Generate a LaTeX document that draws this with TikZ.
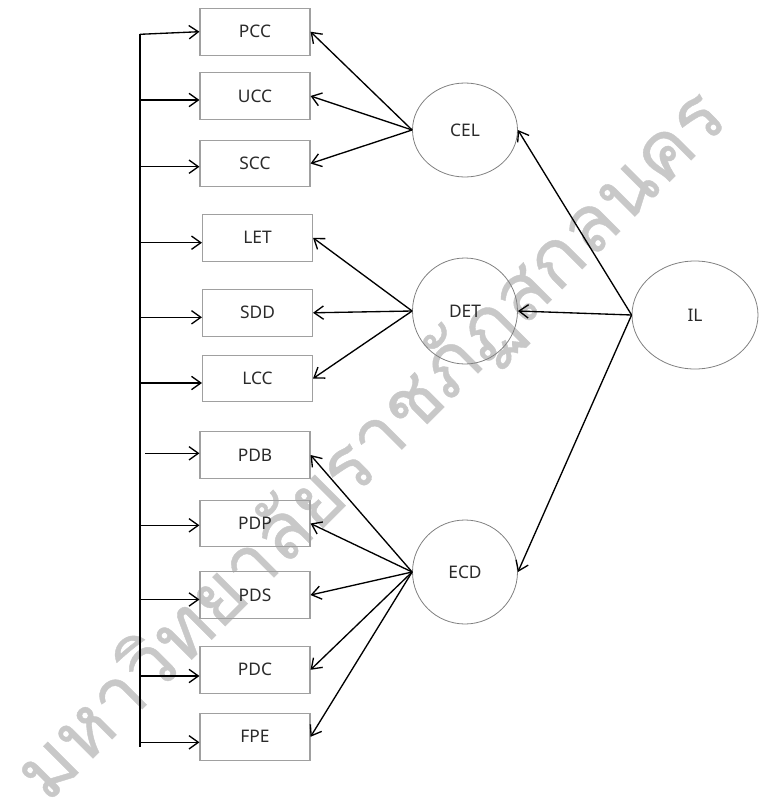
\documentclass[tikz,border=0pt]{standalone}
\usepackage{fontspec}
\setmainfont{Noto Sans}
\newfontfamily\thaifont[Script=Thai,FakeBold=0.5]{Loma}
\usetikzlibrary{arrows.meta,shapes.geometric}
\definecolor{boxline}{HTML}{A0A0A0}
\definecolor{ellline}{HTML}{808080}
\definecolor{txt}{HTML}{2A2A2A}
\definecolor{wmark}{HTML}{C8C8C8}
\tikzset{
  obsbox/.style={draw=boxline,line width=0.8pt,minimum width=82.5pt,minimum height=35pt,inner sep=0pt,text=txt,font=\fontsize{13}{15}\selectfont},
  latent/.style={ellipse,draw=ellline,line width=0.6pt,inner sep=0pt,text=txt,font=\fontsize{13}{15}\selectfont},
  arr/.style={-{Straight Barb[length=7pt,width=10pt,line width=1pt]},line width=1pt,black},
  bar/.style={line width=1.6pt,black},
}
\begin{document}
\begin{tikzpicture}[x=0.75pt,y=-0.75pt]
\useasboundingbox (0,0) rectangle (759,807);
% watermark
\node[rotate=45,text=wmark,font=\thaifont\fontsize{59}{66}\selectfont,inner sep=0pt] (wm) at (372,446) {มหาวิทยาลัยราชภัฏสกลนคร};
% boxes
\node[obsbox] (pcc) at (255,31.7) {PCC};
\node[obsbox] (ucc) at (255,96) {UCC};
\node[obsbox] (scc) at (255,163.5) {SCC};
\node[obsbox] (let) at (257.5,237.8) {LET};
\node[obsbox] (sdd) at (257.5,312.8) {SDD};
\node[obsbox] (lcc) at (257.5,378.5) {LCC};
\node[obsbox] (pdb) at (255,455) {PDB};
\node[obsbox] (pdp) at (255,523.5) {PDP};
\node[obsbox] (pds) at (255,595) {PDS};
\node[obsbox] (pdc) at (255,669.8) {PDC};
\node[obsbox] (fpe) at (255,736.8) {FPE};
% latent variables
\node[latent,minimum width=78.75pt,minimum height=70.5pt] (cel) at (465,130) {CEL};
\node[latent,minimum width=78.75pt,minimum height=79.5pt] (det) at (465,311) {DET};
\node[latent,minimum width=78.75pt,minimum height=78pt] (ecd) at (465,572) {ECD};
\node[latent,minimum width=94.5pt,minimum height=81pt] (il) at (695,315) {IL};
% vertical bar
\coordinate (bartop) at (140,33.5);
\coordinate (barbot) at (140,747);
\draw[bar] (bartop) -- (barbot);
\coordinate (b1) at (140,34.3);
\coordinate (b2) at (140,100);
\coordinate (b3) at (140,166.7);
\coordinate (b4) at (140,242.7);
\coordinate (b5) at (140,317.3);
\coordinate (b6) at (140,383);
\coordinate (b7) at (145,453.3);
\coordinate (b8) at (140,525.3);
\coordinate (b9) at (140,599.5);
\coordinate (b10) at (140,676);
\coordinate (b11) at (140,742.3);
\draw[arr] (b1) -- (pcc.west);
\draw[arr] (b2) -- (b2 -| ucc.west);
\draw[arr] (b3) -- (b3 -| scc.west);
\draw[arr] (b4) -- (b4 -| let.west);
\draw[arr] (b5) -- (b5 -| sdd.west);
\draw[arr] (b6) -- (b6 -| lcc.west);
\draw[arr] (b7) -- (b7 -| pdb.west);
\draw[arr] (b8) -- (b8 -| pdp.west);
\draw[arr] (b9) -- (b9 -| pds.west);
\draw[arr] (b10) -- (b10 -| pdc.west);
\draw[arr] (b11) -- (b11 -| fpe.west);
% loadings
\foreach \t in {pcc,ucc,scc} \draw[arr] (cel.west) -- (\t.east);
\foreach \t in {let,sdd,lcc} \draw[arr] (det.west) -- (\t.east);
\foreach \t in {pdb,pdp,pds,pdc,fpe} \draw[arr] (ecd.west) -- (\t.east);
\foreach \t in {cel,det,ecd} \draw[arr] (il.west) -- (\t.east);
\end{tikzpicture}
\end{document}
